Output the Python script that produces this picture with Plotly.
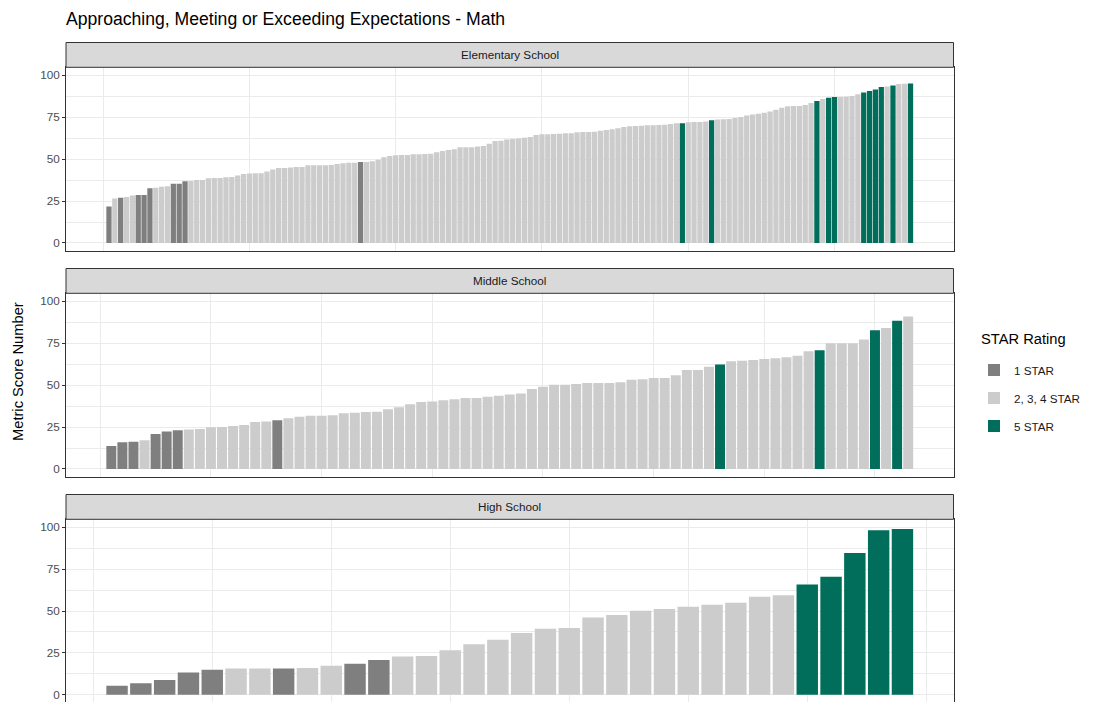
import plotly.graph_objects as go

# ---------------- data ----------------
title_text = "Approaching, Meeting or Exceeding Expectations - Math"
y_axis_title = "Metric Score Number"
legend_title = "STAR Rating"
facet_names = ["Elementary School", "Middle School", "High School"]
star_codes = [1, 2, 5]
star_labels = {1: "1 STAR", 2: "2, 3, 4 STAR", 5: "5 STAR"}
y_tick_values = [0, 25, 50, 75, 100]

elementary_scores = [
    21.7, 26.6, 27.0, 27.4, 28.4, 28.6, 28.6, 32.6, 33.0, 33.6,
    33.8, 35.4, 35.4, 36.8, 37.0, 37.6, 37.6, 38.6, 38.8, 38.8,
    39.2, 39.4, 40.2, 41.2, 41.4, 41.6, 41.6, 42.7, 43.9, 44.7,
    44.7, 45.1, 45.3, 45.3, 46.3, 46.3, 46.3, 46.3, 46.5, 47.1,
    47.5, 47.9, 47.9, 48.3, 48.3, 48.7, 49.7, 51.1, 51.9, 52.3,
    52.5, 52.5, 52.9, 52.9, 53.1, 53.3, 54.1, 54.9, 55.5, 55.9,
    57.1, 57.1, 57.1, 57.5, 57.9, 59.2, 60.8, 61.0, 61.8, 62.0,
    62.4, 62.8, 63.2, 64.4, 64.8, 64.8, 65.0, 65.2, 65.4, 65.4,
    66.0, 66.2, 66.2, 66.4, 67.0, 67.4, 67.8, 68.4, 69.2, 69.6,
    69.8, 70.0, 70.2, 70.2, 70.4, 70.6, 71.0, 71.4, 71.4, 72.0,
    72.2, 72.2, 72.4, 73.2, 73.6, 73.8, 74.0, 74.6, 75.1, 76.1,
    76.7, 77.1, 77.7, 78.5, 79.5, 80.7, 81.5, 81.7, 81.7, 82.3,
    83.5, 84.7, 85.9, 86.7, 87.1, 87.1, 87.3, 87.7, 88.7, 89.7,
    90.7, 91.5, 93.0, 93.4, 94.0, 94.8, 95.0, 95.2,
]
elementary_stars = [
    1, 2, 1, 2, 2, 1, 1, 1, 2, 2,
    2, 1, 1, 1, 2, 2, 2, 2, 2, 2,
    2, 2, 2, 2, 2, 2, 2, 2, 2, 2,
    2, 2, 2, 2, 2, 2, 2, 2, 2, 2,
    2, 2, 2, 1, 2, 2, 2, 2, 2, 2,
    2, 2, 2, 2, 2, 2, 2, 2, 2, 2,
    2, 2, 2, 2, 2, 2, 2, 2, 2, 2,
    2, 2, 2, 2, 2, 2, 2, 2, 2, 2,
    2, 2, 2, 2, 2, 2, 2, 2, 2, 2,
    2, 2, 2, 2, 2, 2, 2, 2, 5, 2,
    2, 2, 2, 5, 2, 2, 2, 2, 2, 2,
    2, 2, 2, 2, 2, 2, 2, 2, 2, 2,
    2, 5, 2, 5, 5, 2, 2, 2, 2, 5,
    5, 5, 5, 2, 5, 2, 2, 5,
]

middle_scores = [
    13.7, 15.9, 16.3, 17.1, 20.9, 22.3, 23.1, 23.5, 23.9, 24.9,
    25.0, 25.6, 26.2, 28.0, 28.4, 29.0, 30.2, 31.2, 31.8, 31.8,
    32.0, 33.2, 33.6, 34.0, 34.2, 35.6, 36.8, 38.6, 40.0, 40.2,
    41.0, 41.6, 42.3, 42.3, 43.1, 43.7, 44.5, 45.1, 47.7, 49.1,
    50.3, 50.3, 50.7, 51.3, 51.3, 51.3, 51.7, 53.3, 53.5, 54.3,
    54.3, 55.9, 59.0, 59.0, 61.0, 62.4, 64.2, 64.6, 65.0, 65.6,
    66.0, 66.6, 67.6, 70.2, 70.8, 75.0, 75.0, 75.0, 77.3, 82.7,
    84.1, 88.5, 90.9,
]
middle_stars = [
    1, 1, 1, 2, 1, 1, 1, 2, 2, 2,
    2, 2, 2, 2, 2, 1, 2, 2, 2, 2,
    2, 2, 2, 2, 2, 2, 2, 2, 2, 2,
    2, 2, 2, 2, 2, 2, 2, 2, 2, 2,
    2, 2, 2, 2, 2, 2, 2, 2, 2, 2,
    2, 2, 2, 2, 2, 5, 2, 2, 2, 2,
    2, 2, 2, 2, 5, 2, 2, 2, 2, 5,
    2, 5, 2,
]

high_scores = [
    5.4, 6.8, 8.8, 13.3, 14.9, 15.7, 15.7, 15.7, 15.9, 17.3,
    18.5, 20.7, 22.9, 23.1, 26.5, 30.1, 32.9, 36.9, 39.4, 39.8,
    46.2, 47.6, 50.2, 51.2, 52.6, 53.8, 55.0, 58.6, 59.4, 65.9,
    70.5, 84.7, 98.2, 99.0,
]
high_stars = [
    1, 1, 1, 1, 1, 2, 2, 1, 2, 2,
    1, 1, 2, 2, 2, 2, 2, 2, 2, 2,
    2, 2, 2, 2, 2, 2, 2, 2, 2, 5,
    5, 5, 5, 5,
]

# ---------------- styling ----------------
W, H = 1112, 702
FONT = "Liberation Sans, Arial, sans-serif"
star_colors = {1: "#7F7F7F", 2: "#CCCCCC", 5: "#006E5A"}
GRID = "#EBEBEB"
BORDER = "#333333"


def fx(p):
    return p / W


def fy(p):
    return 1 - p / H


panel_left, panel_right = 66, 953.5
# (top px, bottom px, y range, x grid step, strip top px)
panel_geom = [
    (67.3, 250.7, [-4.6, 104.8], 25, 42.5),
    (293.3, 476.7, [-4.6, 104.8], 10, 268.5),
    (519.3, 702.0, [-4.35, 104.8], 5, 494.5),
]
facet_data = [
    (elementary_scores, elementary_stars),
    (middle_scores, middle_stars),
    (high_scores, high_stars),
]

fig = go.Figure()
shapes = []
annotations = []

for i, (name, (scores, stars), geom) in enumerate(zip(facet_names, facet_data, panel_geom)):
    top, bottom, yr, xstep, strip_top = geom
    ax = "" if i == 0 else str(i + 1)
    n = len(scores)
    ranks = list(range(1, n + 1))
    for code in star_codes:
        xs = [r for r, s in zip(ranks, stars) if s == code]
        ys = [v for v, s in zip(scores, stars) if s == code]
        fig.add_trace(go.Bar(
            x=xs, y=ys, width=0.9,
            name=star_labels[code], legendgroup=star_labels[code],
            showlegend=(i == 0),
            marker=dict(color=star_colors[code], line=dict(width=0)),
            xaxis="x" + ax, yaxis="y" + ax,
            hovertemplate=name + "<br>%{y}<extra>" + star_labels[code] + "</extra>",
        ))
    span = (n + 0.45) - 0.55
    xr = [0.55 - 0.05 * span, n + 0.45 + 0.05 * span]
    fig.update_layout(**{
        "xaxis" + ax: dict(
            domain=[fx(panel_left), fx(panel_right)], range=xr,
            anchor="y" + ax, showticklabels=False, ticks="",
            tick0=0, dtick=xstep, showgrid=True, gridcolor=GRID, gridwidth=1,
            zeroline=False, showline=True, mirror=True, linecolor=BORDER, linewidth=1,
            fixedrange=True,
        ),
        "yaxis" + ax: dict(
            domain=[fy(bottom), fy(top)], range=yr, anchor="x" + ax,
            tickmode="array", tickvals=y_tick_values,
            ticks="outside", ticklen=3, tickcolor=BORDER, tickwidth=1,
            tickfont=dict(family=FONT, size=11.7, color="#4D4D4D"),
            showgrid=True, gridcolor=GRID, gridwidth=1,
            minor=dict(tickmode="array", tickvals=[12.5, 37.5, 62.5, 87.5],
                       showgrid=True, gridcolor=GRID, gridwidth=0.6, ticks=""),
            zeroline=False, showline=True, mirror=True, linecolor=BORDER, linewidth=1,
            fixedrange=True,
        ),
    })
    # facet strip
    shapes.append(dict(
        type="rect", xref="paper", yref="paper",
        x0=fx(panel_left), x1=fx(panel_right), y0=fy(top), y1=fy(strip_top),
        fillcolor="#D9D9D9", line=dict(color=BORDER, width=1), layer="above",
    ))
    annotations.append(dict(
        text=name, xref="paper", yref="paper",
        x=fx((panel_left + panel_right) / 2), y=fy((top + strip_top) / 2),
        xanchor="center", yanchor="middle", showarrow=False,
        font=dict(family=FONT, size=11.7, color="#1A1A1A"),
    ))

annotations.append(dict(
    text=y_axis_title, xref="paper", yref="paper",
    x=fx(18), y=fy(372), textangle=-90, showarrow=False,
    xanchor="center", yanchor="middle",
    font=dict(family=FONT, size=14.7, color="#000000"),
))
annotations.append(dict(
    text=legend_title, xref="paper", yref="paper",
    x=fx(979), y=fy(339), showarrow=False,
    xanchor="left", yanchor="middle",
    font=dict(family=FONT, size=14.7, color="#000000"),
))

fig.update_layout(
    width=W, height=H,
    margin=dict(l=0, r=0, t=0, b=0),
    paper_bgcolor="white", plot_bgcolor="white",
    barmode="overlay",
    font=dict(family=FONT, color="#1A1A1A"),
    title=dict(
        text=title_text, x=fx(66), xanchor="left", xref="container",
        y=fy(19), yanchor="middle", yref="container",
        font=dict(family=FONT, size=17.6, color="#000000"),
    ),
    legend=dict(
        x=fx(974), y=fy(355.5), xanchor="left", yanchor="top",
        font=dict(family=FONT, size=11.7, color="#1A1A1A"),
        tracegroupgap=9, bgcolor="rgba(0,0,0,0)", traceorder="grouped",
    ),
    shapes=shapes,
    annotations=annotations,
)

fig.write_html(
    "out.html",
    config={"displayModeBar": False},
    post_script="document.body.style.margin='0';document.body.style.overflow='hidden';",
)
